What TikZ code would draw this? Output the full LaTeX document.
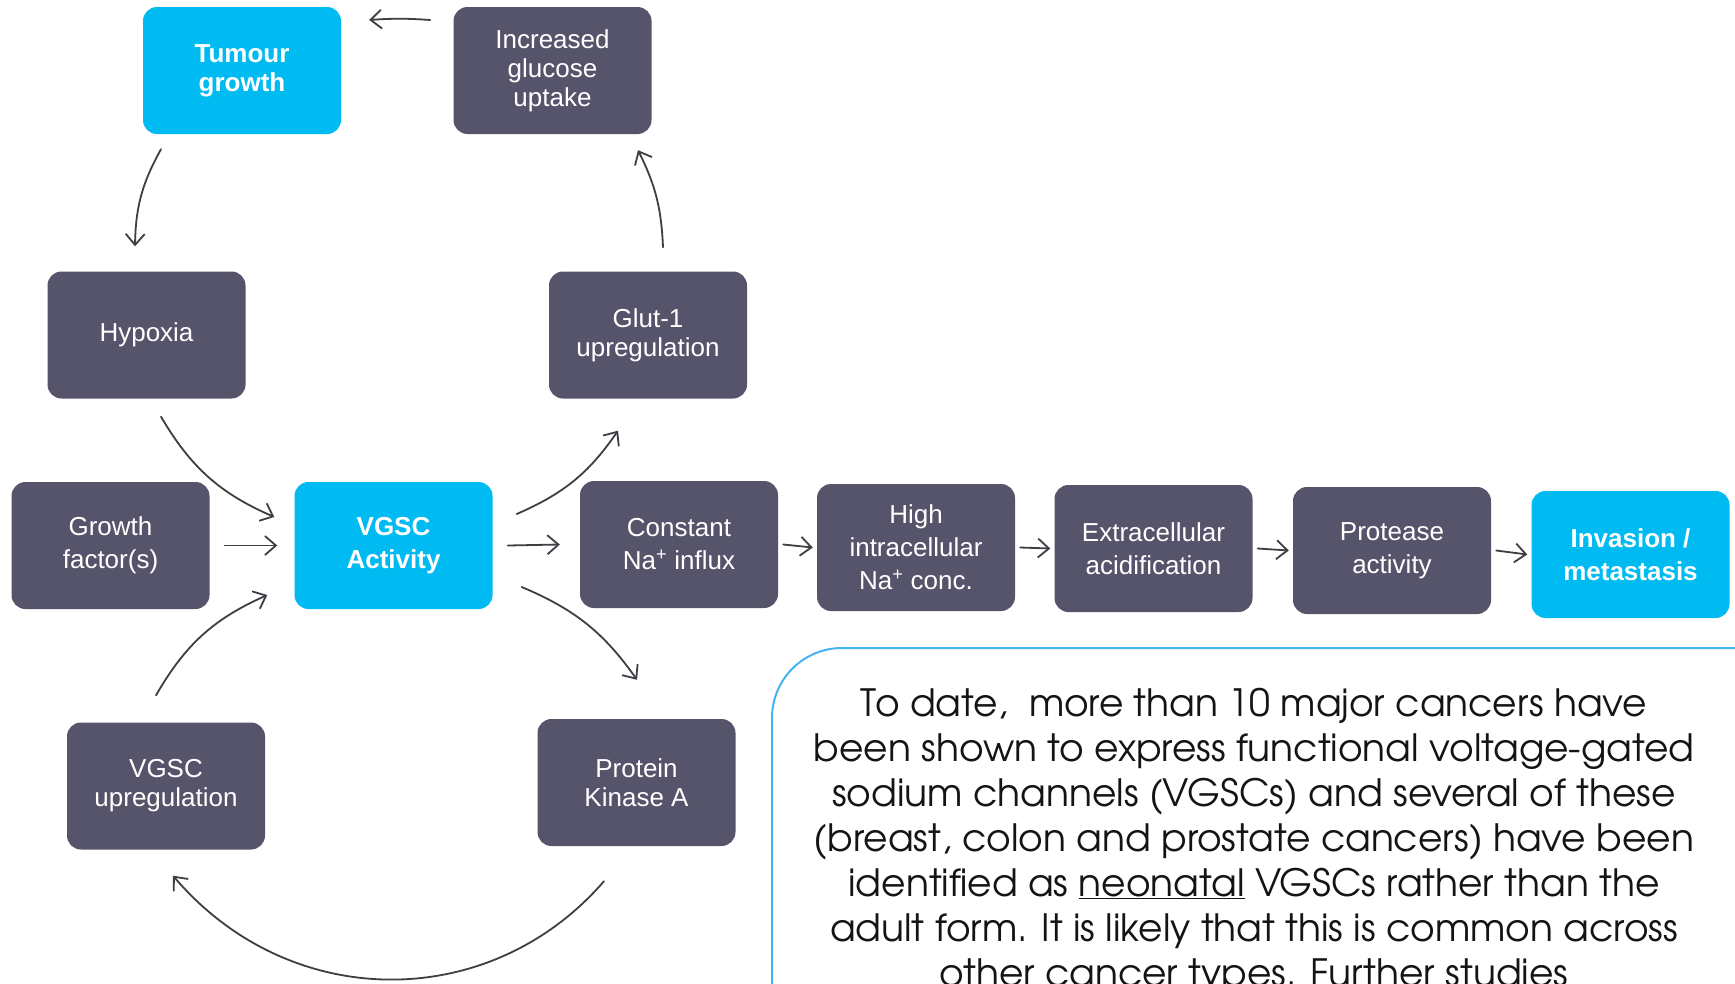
\documentclass[tikz,border=0pt]{standalone}
\usepackage{fontspec}
\setmainfont{Liberation Sans}
\newfontfamily\gothic{texgyreadventor-regular.otf}
\usetikzlibrary{arrows.meta}
\definecolor{slate}{RGB}{85,84,107}
\definecolor{cyanb}{RGB}{0,186,242}
\definecolor{arr}{RGB}{62,62,68}
\definecolor{framec}{RGB}{70,180,240}
\definecolor{txt}{RGB}{20,20,20}
\begin{document}
\begin{tikzpicture}[x=1pt,y=-1pt,
  box/.style={rectangle, rounded corners=14pt, minimum width=198pt, minimum height=127pt, align=center, text=white, inner sep=0pt},
  darkt/.style={box, fill=slate, font=\fontsize{26}{29}\selectfont},
  darkl/.style={box, fill=slate, font=\fontsize{26}{33}\selectfont},
  hit/.style={box, fill=cyanb, font=\fontsize{26}{29}\selectfont\bfseries},
  hil/.style={box, fill=cyanb, font=\fontsize{26}{33}\selectfont\bfseries},
  link/.style={draw=arr, line width=1.8pt, line cap=round, -{Straight Barb[length=11pt,width=19pt,line width=1.8pt]}},
  note/.style={align=center, text=txt, inner sep=0pt, font=\gothic\fontsize{37.6}{45}\selectfont}
]
\useasboundingbox (0,0) rectangle (1735,983);
\fill[white] (0,0) rectangle (1735,983);

\node[hit]   (tumour)   at (242,70.5)  {Tumour\\growth};
\node[darkt] (glucose)  at (552.5,70.5) {Increased\\glucose\\uptake};
\node[darkt] (hypoxia)  at (146.5,335) {Hypoxia};
\node[darkt] (glut)     at (648,335)   {Glut-1\\upregulation};
\node[darkl] (growth)   at (110.5,545.5) {Growth\\factor(s)};
\node[hil]   (vgsc)     at (393.5,545.5) {VGSC\\Activity};
\node[darkl] (constant) at (679,544.5) {Constant\\Na\textsuperscript{+} influx};
\node[darkl] (high)     at (916,547.5) {High\\intracellular\\Na\textsuperscript{+} conc.};
\node[darkl] (extra)    at (1153.5,548.5) {Extracellular\\acidification};
\node[darkl] (protease) at (1392,550.5) {Protease\\activity};
\node[hil]   (invasion) at (1630.5,554.5) {Invasion /\\metastasis};
\node[darkt] (vupreg)   at (166,786)   {VGSC\\upregulation};
\node[darkt] (pka)      at (636.5,782.5) {Protein\\Kinase A};

\draw[link] ([shift={(-23,-50.5)}]glucose.west) to[bend right=4] ([shift={(28,-50.5)}]tumour.east);
\draw[link] ([shift={(-81,15)}]tumour.south) to[bend right=14] ([shift={(-11.5,-25)}]hypoxia.north);
\draw[link] ([shift={(15,-24)}]glut.north) to[bend right=12] ([shift={(85.5,16)}]glucose.south);
\draw[link] ([shift={(14.5,18)}]hypoxia.south) to[bend right=18] ([shift={(-20,-28.5)}]vgsc.west);
\draw[link] ([xshift=15]growth.east) -- ([xshift=-17]vgsc.west);
\draw[link] ([shift={(-10,-27)}]vupreg.north) to[bend left=18] ([shift={(-27,49.5)}]vgsc.west);
\draw[link] ([shift={(24,-31.5)}]vgsc.east) to[bend right=16] ([shift={(-30,32)}]glut.south);
\draw[link] ([xshift=15]vgsc.east) -- ([xshift=-20]constant.west);
\draw[link] ([shift={(29,41.5)}]vgsc.east) to[bend left=16] ([shift={(0.5,-39)}]pka.north);
\draw[link] ([shift={(-32.5,35)}]pka.south) .. controls (490,1013) and (290,1013) .. ([shift={(7,26)}]vupreg.south);
\draw[link] ([xshift=5]constant.east) -- ([xshift=-4]high.west);
\draw[link] ([xshift=5]high.east) -- ([xshift=-4]extra.west);
\draw[link] ([xshift=5]extra.east) -- ([xshift=-4]protease.west);
\draw[link] ([xshift=5]protease.east) -- ([xshift=-4]invasion.west);

\begin{scope}
\clip (0,0) rectangle (1735,983);
\draw[framec, line width=2pt, rounded corners=70pt] (772,1100) -- (772,648) -- (1800,648);
\node[note, anchor=north] (notetext) at (1254,688) {To date,\ \ more than 10 major cancers have\\been shown to express functional voltage-gated\\sodium channels (VGSCs) and several of these\\(breast, colon and prostate cancers) have been\\identified as \underline{neonatal} VGSCs rather than the\\adult form. It is likely that this is common across\\other cancer types. Further studies};
\end{scope}
\end{tikzpicture}
\end{document}
